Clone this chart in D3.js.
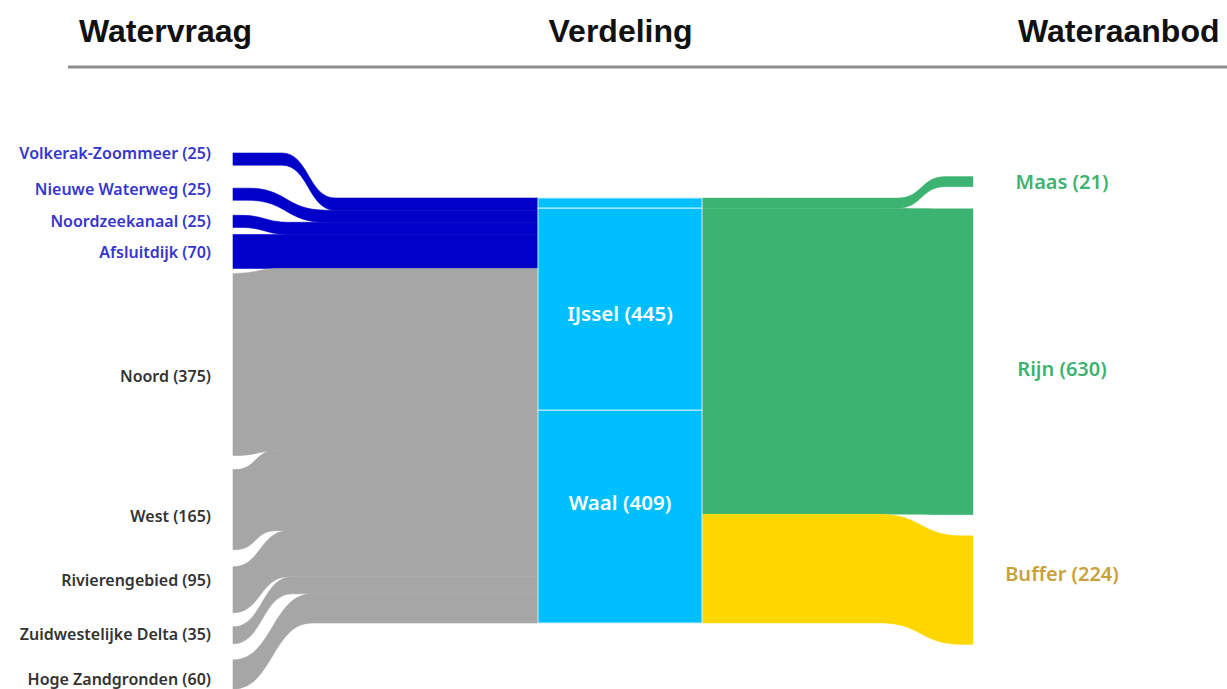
<!DOCTYPE html>
<html>
<head>
<meta charset="utf-8">
<script src="https://cdn.jsdelivr.net/npm/d3@7"></script>
<style>
  html, body { margin: 0; padding: 0; background: #fff; }
  svg { display: block; }
</style>
</head>
<body>
<div id="chart"></div>
<script>
// column headers
const headers = ['Watervraag', 'Verdeling', 'Wateraanbod'];

// left column: water demand
const leftNames = ['Volkerak-Zoommeer', 'Nieuwe Waterweg', 'Noordzeekanaal', 'Afsluitdijk',
  'Noord', 'West', 'Rivierengebied', 'Zuidwestelijke Delta', 'Hoge Zandgronden'];
const leftValues = [25, 25, 25, 70, 375, 165, 95, 35, 60];
const leftKinds = ['kanaal', 'kanaal', 'kanaal', 'kanaal', 'regio', 'regio', 'regio', 'regio', 'regio'];

// middle column: distribution (heights as drawn in the picture, labels as printed)
const midNames = ['', 'IJssel', 'Waal'];
const midLabelValues = [null, 445, 409];
const midValues = [21, 416, 438];

// right column: water supply
const rightNames = ['Maas', 'Rijn', 'Buffer'];
const rightValues = [21, 630, 224];

// layout
const width = 1227;
const height = 689;
const leftX = 233;
const midX0 = 538;
const midX1 = 702;
const rightX = 973;
const topLeft = 153;
const topMid = 198;
const topRight = 176.5;
const leftGaps = [0, 23, 15, 7, 5, 14, 17, 14, 16];
const rightGaps = [0, 22, 21];
// x-range in which each flow bends
const leftBends = [[282, 335], [248, 325], [240, 290], [233, 262], [233, 282], [236, 275], [233, 288], [233, 292], [233, 312]];
const rightBends = [[898, 945], [880, 960], [880, 962]];
const leftLabelNudge = [-6, -5, 0, 1, 12, 7, -9, -1, 5];
const midLabelY = [null, 314, 503];
const rightLabelNudge = [0, 7, -16];

const color = d3.scaleOrdinal()
  .domain(['kanaal', 'regio', 'mid', 'Maas', 'Rijn', 'Buffer'])
  .range(['#0000c8', '#a6a6a6', '#00bfff', '#3cb371', '#3cb371', '#ffd700']);
const labelColor = d3.scaleOrdinal()
  .domain(['kanaal', 'regio', 'Maas', 'Rijn', 'Buffer'])
  .range(['#3636cc', '#333333', '#3cb371', '#3cb371', '#c9a13b']);

const k = d3.scaleLinear().domain([0, d3.sum(leftValues)]).range([0, 425]);

const svg = d3.select('#chart')
  .append('svg')
  .attr('width', width)
  .attr('height', height)
  .attr('viewBox', `0 0 ${width} ${height}`);

// headers + rule
const headerX = d3.scalePoint().domain(headers).range([79, 1018]);
svg.append('g')
  .selectAll('text')
  .data(headers)
  .join('text')
  .attr('x', d => headerX(d))
  .attr('y', 42)
  .text(d => d)
  .style('font-family', '"Liberation Sans", Arial, sans-serif')
  .style('font-weight', 'bold')
  .style('font-size', '32px')
  .style('fill', '#111');

svg.append('line')
  .attr('x1', 68).attr('x2', width)
  .attr('y1', 67).attr('y2', 67)
  .style('stroke', '#8e8e8e')
  .style('stroke-width', 3);

// stack nodes
function stack (values, gaps, start) {
  let y = start;
  return values.map((v, i) => {
    y += gaps ? gaps[i] : 0;
    const n = { y0: y, y1: y + k(v) };
    y = n.y1;
    return n;
  });
}
const leftNodes = stack(leftValues, leftGaps, topLeft);
const leftInMid = stack(leftValues, null, topMid);
const midNodes = stack(midValues, null, topMid);
const rightInMid = stack(rightValues, null, topMid);
const rightNodes = stack(rightValues, rightGaps, topRight);

const band = d3.area()
  .curve(d3.curveBumpX)
  .x(d => d.x)
  .y0(d => d.t)
  .y1(d => d.b);

function bandPoints (xa, a, xb, b, bend) {
  const pts = [{ x: xa, t: a.y0, b: a.y1 }];
  if (bend[0] > xa) pts.push({ x: bend[0], t: a.y0, b: a.y1 });
  pts.push({ x: bend[1], t: b.y0, b: b.y1 });
  if (xb > bend[1]) pts.push({ x: xb, t: b.y0, b: b.y1 });
  return pts;
}

// left flows
svg.append('g')
  .selectAll('path')
  .data(leftNames)
  .join('path')
  .attr('d', (d, i) => band(bandPoints(leftX, leftNodes[i], midX0, leftInMid[i], leftBends[i])))
  .style('fill', (d, i) => color(leftKinds[i]))
  .style('stroke', (d, i) => color(leftKinds[i]))
  .style('stroke-width', 0.6);

// right flows
svg.append('g')
  .selectAll('path')
  .data(rightNames)
  .join('path')
  .attr('d', (d, i) => band(bandPoints(midX1, rightInMid[i], rightX, rightNodes[i], rightBends[i])))
  .style('fill', d => color(d))
  .style('stroke', d => color(d))
  .style('stroke-width', 0.4);

// middle nodes
svg.append('g')
  .selectAll('rect')
  .data(midNames)
  .join('rect')
  .attr('x', midX0)
  .attr('y', (d, i) => midNodes[i].y0)
  .attr('width', midX1 - midX0)
  .attr('height', (d, i) => midNodes[i].y1 - midNodes[i].y0)
  .style('fill', color('mid'))
  .style('stroke', '#c9f0ff')
  .style('stroke-width', 1);

const labelFont = '"Noto Sans", "Open Sans", sans-serif';

// left labels
svg.append('g')
  .selectAll('text')
  .data(leftNames)
  .join('text')
  .attr('x', 211)
  .attr('y', (d, i) => (leftNodes[i].y0 + leftNodes[i].y1) / 2 + leftLabelNudge[i])
  .attr('dy', '0.35em')
  .attr('text-anchor', 'end')
  .text((d, i) => `${d} (${leftValues[i]})`)
  .style('font-family', labelFont)
  .style('font-weight', 600)
  .style('font-size', '16px')
  .style('fill', (d, i) => labelColor(leftKinds[i]));

// middle labels
svg.append('g')
  .selectAll('text')
  .data(midNames.filter(d => d))
  .join('text')
  .attr('x', (midX0 + midX1) / 2)
  .attr('y', d => midLabelY[midNames.indexOf(d)])
  .attr('dy', '0.35em')
  .attr('text-anchor', 'middle')
  .text(d => `${d} (${midLabelValues[midNames.indexOf(d)]})`)
  .style('font-family', labelFont)
  .style('font-weight', 600)
  .style('font-size', '20.5px')
  .style('fill', '#fff');

// right labels
svg.append('g')
  .selectAll('text')
  .data(rightNames)
  .join('text')
  .attr('x', 1062)
  .attr('y', (d, i) => (rightNodes[i].y0 + rightNodes[i].y1) / 2 + rightLabelNudge[i])
  .attr('dy', '0.35em')
  .attr('text-anchor', 'middle')
  .text((d, i) => `${d} (${rightValues[i]})`)
  .style('font-family', labelFont)
  .style('font-weight', 600)
  .style('font-size', '20px')
  .style('fill', d => labelColor(d));
</script>
</body>
</html>
